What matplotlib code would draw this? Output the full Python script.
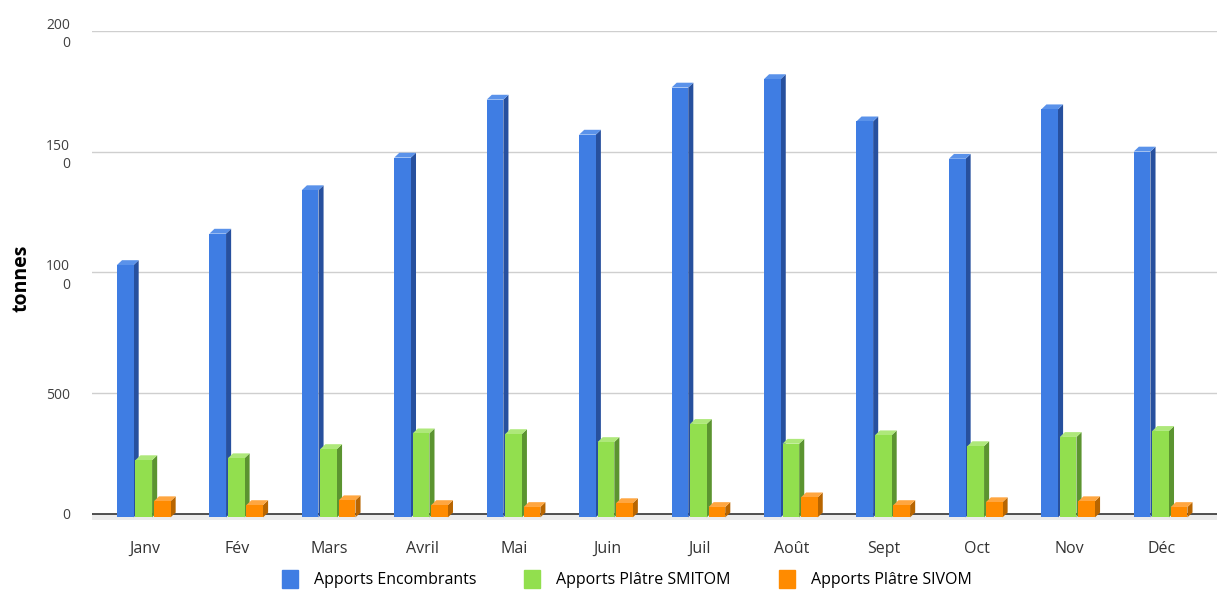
import numpy as np
import matplotlib
matplotlib.use("Agg")
import matplotlib.pyplot as plt
from matplotlib.patches import Polygon, Patch

mois = ["Janv", "Fév", "Mars", "Avril", "Mai", "Juin", "Juil", "Août", "Sept", "Oct", "Nov", "Déc"]
encombrants = [1030, 1160, 1340, 1475, 1715, 1570, 1765, 1800, 1625, 1470, 1675, 1500]
platre_smitom = [222, 230, 268, 333, 330, 297, 372, 290, 325, 280, 318, 343]
platre_sivom = [52, 36, 56, 36, 28, 44, 28, 68, 36, 48, 52, 28]
series_noms = ["Apports Encombrants", "Apports Plâtre SMITOM", "Apports Plâtre SIVOM"]
y_ticks = [0, 500, 1000, 1500, 2000]
y_tick_labels = ["0", "500", "100\n0", "150\n0", "200\n0"]

couleurs = ["#3f7de3", "#92df4e", "#ff8b00"]
cote = ["#27509e", "#5b9430", "#b86500"]
dessus = ["#5a92ea", "#aee87a", "#ffa640"]

plt.rcParams["font.family"] = ["Open Sans", "DejaVu Sans"]

fig = plt.figure(figsize=(12.17, 5.92), dpi=100)
ax = fig.add_axes([0.0756, 0.122, 0.9244, 0.826])

x = np.arange(len(mois))
largeur = 0.2
dx, dy = 0.055, 20  # profondeur du faux effet 3D
pied = -15  # les barres descendent un peu sous l'axe

# sol gris sous l'axe
ax.axhspan(-25, 0, color="#ececec", zorder=0, lw=0)
for t in y_ticks[1:]:
    ax.axhline(t, color="#cfcfcf", lw=1, zorder=1)
ax.axhline(0, color="#333333", lw=1.2, zorder=1)

for i, valeurs in enumerate([encombrants, platre_smitom, platre_sivom]):
    pos = x - largeur + i * largeur - 0.01
    hauteurs = [v - pied for v in valeurs]
    bars = ax.bar(pos, hauteurs, width=largeur - 0.02, bottom=pied, color=couleurs[i],
                  zorder=3, lw=0)
    for b, v in zip(bars, valeurs):
        x0 = b.get_x()
        x1 = x0 + b.get_width()
        ax.add_patch(Polygon([(x1, pied), (x1 + dx, pied + dy), (x1 + dx, v + dy), (x1, v)],
                             closed=True, color=cote[i], lw=0, zorder=2))
        ax.add_patch(Polygon([(x0, v), (x0 + dx, v + dy), (x1 + dx, v + dy), (x1, v)],
                             closed=True, color=dessus[i], lw=0, zorder=2))

ax.set_xlim(-0.57, 11.6)
ax.set_ylim(-25, 2000)
ax.set_yticks(y_ticks)
ax.set_yticklabels(y_tick_labels, fontsize=10, color="#404040", linespacing=1.3)
ax.set_xticks(x)
ax.set_xticklabels(mois, fontsize=11.5, color="#333333")
ax.tick_params(axis="both", length=0)
ax.tick_params(axis="x", pad=15)
ax.tick_params(axis="y", pad=16)
for s in ax.spines.values():
    s.set_visible(False)

fig.text(0.018, 0.53, "tonnes", rotation=90, fontsize=14, fontweight="bold",
         va="center", ha="center")

handles = [Patch(color=c) for c in couleurs]
fig.legend(handles, series_noms, loc="lower center", bbox_to_anchor=(0.515, -0.018), ncol=3,
           frameon=False, fontsize=11.5, handlelength=1.0, handleheight=1.3,
           columnspacing=3.0, handletextpad=1.0)

fig.savefig("out.png", dpi=100)
